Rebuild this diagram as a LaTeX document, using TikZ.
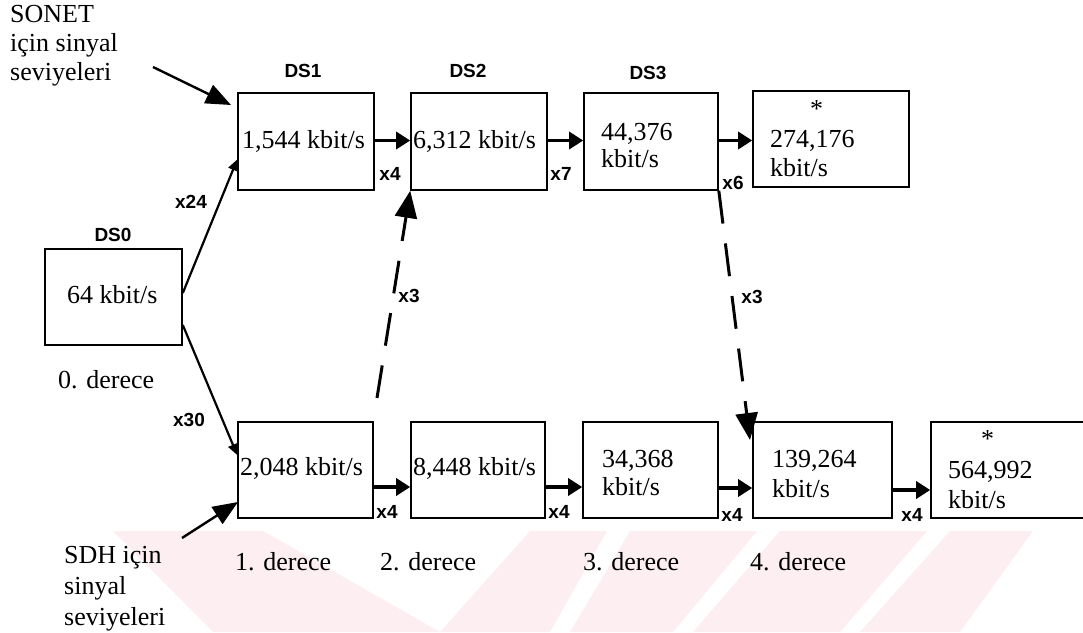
\documentclass[tikz,border=0pt]{standalone}
\usepackage{fontspec}
\setmainfont{Liberation Serif}
\newfontfamily\lblfont{Liberation Sans}
\usetikzlibrary{arrows.meta}
\definecolor{wm}{RGB}{252,238,241}
\begin{document}
\begin{tikzpicture}[x=1pt,y=-1pt,
  box/.style={draw, line width=1.6pt, inner sep=0pt},
  txt/.style={anchor=base west, inner sep=0pt, font=\fontsize{26}{30}\selectfont},
  lbl/.style={inner sep=0pt, font=\lblfont\bfseries\fontsize{19}{21}\selectfont},
  harr/.style={line width=3.2pt, -{Triangle[length=14pt,width=17pt]}},
  bigarr/.style={line width=2.4pt, -{Triangle[length=25pt,width=20pt]}},
  thinarr/.style={line width=2.2pt, -{Triangle[length=11pt,width=10pt]}},
  dasharr/.style={line width=3pt, dash pattern=on 33pt off 20pt, -{Triangle[length=27pt,width=22pt]}}]
\useasboundingbox (0,0) rectangle (1083,632);
\clip (0,0) rectangle (1083,632);
% watermark
\fill[wm] (113,531) -- (263,531) -- (440,632) -- (213,632) -- cycle;
\fill[wm] (530,531) -- (607,531) -- (550,632) -- (440,632) -- cycle;
\fill[wm] (630,531) -- (757,531) -- (673,632) -- (570,632) -- cycle;
\fill[wm] (780,531) -- (927,531) -- (840,632) -- (693,632) -- cycle;
\fill[wm] (950,531) -- (1033,531) -- (960,632) -- (860,632) -- cycle;

% boxes
\node[box, minimum width=137pt, minimum height=96pt] (DS0) at (113.5,297) {};
\node[box, minimum width=136pt, minimum height=97pt] (DS1) at (306,141.5) {};
\node[box, minimum width=136pt, minimum height=97pt] (DS2) at (479,141.5) {};
\node[box, minimum width=134pt, minimum height=97pt] (DS3) at (651,141.5) {};
\node[box, minimum width=156pt, minimum height=96pt] (B274) at (831,139) {};
\node[box, minimum width=135pt, minimum height=96pt] (B2048) at (305.5,470) {};
\node[box, minimum width=134pt, minimum height=96pt] (B8448) at (478,470) {};
\node[box, minimum width=135pt, minimum height=96pt] (B34368) at (650.5,470) {};
\node[box, minimum width=139pt, minimum height=96pt] (B139) at (822.5,470) {};
\node[box, minimum width=164pt, minimum height=96pt] (B564) at (1013,470) {};

% box texts
\node[txt] (t0) at (67,303) {64 kbit/s};
\node[txt] (t1) at (242,148) {1,544 kbit/s};
\node[txt] (t2) at (413,148) {6,312 kbit/s};
\node[txt] (t3a) at (601,140) {44,376};
\node[txt] (t3b) at (601,167) {kbit/s};
\node[txt] (t4s) at (810,117) {*};
\node[txt] (t4a) at (770,147) {274,176};
\node[txt] (t4b) at (770,176) {kbit/s};
\node[txt] (u1) at (240,475) {2,048 kbit/s};
\node[txt] (u2) at (413,475) {8,448 kbit/s};
\node[txt] (u3a) at (602,467) {34,368};
\node[txt] (u3b) at (602,495) {kbit/s};
\node[txt] (u4a) at (772,467) {139,264};
\node[txt] (u4b) at (772,497) {kbit/s};
\node[txt] (u5s) at (981,447) {*};
\node[txt] (u5a) at (948,478) {564,992};
\node[txt] (u5b) at (948,508) {kbit/s};

% side texts
\node[txt] (so1) at (10,22) {SONET};
\node[txt] (so2) at (10,51) {için sinyal};
\node[txt] (so3) at (10,80) {seviyeleri};
\node[txt] (sd1) at (64,563) {SDH için};
\node[txt] (sd2) at (64,594) {sinyal};
\node[txt] (sd3) at (64,625) {seviyeleri};
\node[txt] (d0) at (58,388) {0. derece};
\node[txt] (d1) at (235,570) {1. derece};
\node[txt] (d2) at (380,570) {2. derece};
\node[txt] (d3) at (583,570) {3. derece};
\node[txt] (d4) at (750,570) {4. derece};

% sans labels
\node[lbl] (lDS0) at (113,235) {DS0};
\node[lbl] (lDS1) at (303,71) {DS1};
\node[lbl] (lDS2) at (468,71) {DS2};
\node[lbl] (lDS3) at (648,73) {DS3};
\node[lbl] (x24) at (191,202) {x24};
\node[lbl] (x30) at (189,420) {x30};
\node[lbl] (xa) at (390,174) {x4};
\node[lbl] (xb) at (561,174) {x7};
\node[lbl] (xc) at (733,183) {x6};
\node[lbl] (xd) at (409,296) {x3};
\node[lbl] (xe) at (752,297) {x3};
\node[lbl] (xf) at (387,512) {x4};
\node[lbl] (xg) at (559,512) {x4};
\node[lbl] (xh) at (732,515) {x4};
\node[lbl] (xi) at (912,515) {x4};

% connectors
\coordinate (sonetS) at (153,67);
\coordinate (sonetE) at (231,105);
\coordinate (sdhS) at (182,538);
\coordinate (sdhE) at (238,502);
\draw[bigarr] (sonetS) -- (sonetE);
\draw[bigarr] (sdhS) -- (sdhE);

\draw[thinarr] ([yshift=4pt]DS0.east) -- ([yshift=-18pt]DS1.west);
\draw[thinarr] ([yshift=-28pt]DS0.east) -- ([yshift=15pt]B2048.west);

\draw[harr] ([yshift=1pt]DS1.east) -- ([yshift=1pt]DS2.west);
\draw[harr] ([yshift=1pt]DS2.east) -- ([yshift=1pt]DS3.west);
\draw[harr] ([yshift=1pt]DS3.east) -- ([yshift=1pt]DS3.east -| B274.west);
\draw[harr] ([yshift=-17pt]B2048.east) -- ([yshift=-17pt]B8448.west);
\draw[harr] ([yshift=-17pt]B8448.east) -- ([yshift=-17pt]B34368.west);
\draw[harr] ([yshift=-18pt]B34368.east) -- ([yshift=-18pt]B139.west);
\draw[harr] ([yshift=-20pt]B139.east) -- ([yshift=-20pt]B564.west);

\coordinate (upS) at (377,398);
\coordinate (dnE) at (750,440);
\draw[dasharr] (upS) -- (DS2.south west);
\draw[dasharr] (DS3.south east) -- (dnE);
\end{tikzpicture}
\end{document}
